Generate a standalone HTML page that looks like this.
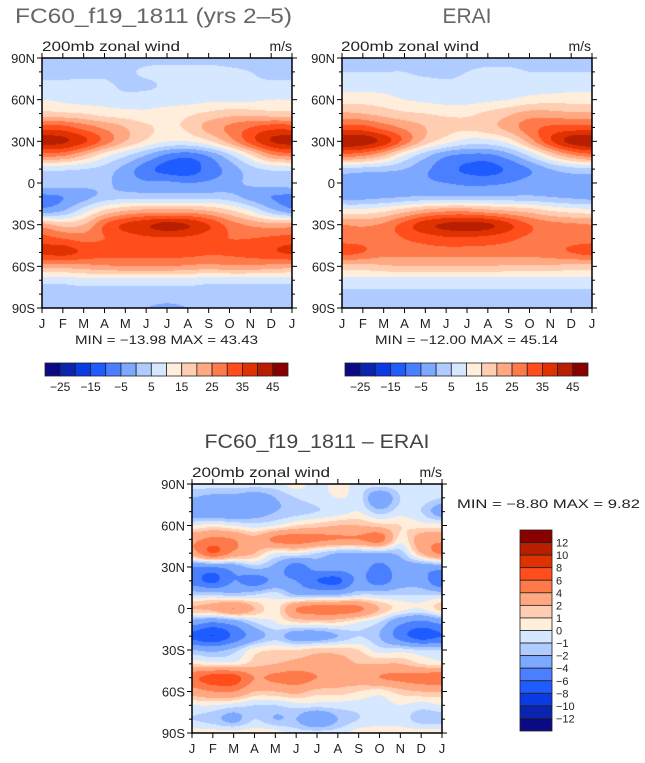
<!DOCTYPE html>
<html><head><meta charset="utf-8">
<style>
body{margin:0;background:#fff;width:645px;height:763px;overflow:hidden;position:relative;font-family:"Liberation Sans",sans-serif}
canvas{position:absolute}
svg{position:absolute;left:0;top:0}
</style></head>
<body>
<canvas id="c1" style="left:42px;top:58px" width="250" height="250"></canvas>
<canvas id="c2" style="left:342px;top:58px" width="250" height="250"></canvas>
<canvas id="c3" style="left:192px;top:484px" width="250" height="249"></canvas>
<svg id="s" width="645" height="763"></svg>
<script>
const months=["J","F","M","A","M","J","J","A","S","O","N","D","J"];
const latTicks=["90N","60N","30N","0","30S","60S","90S"];
const lats=[90,80,70,60,50,40,30,20,10,0,-10,-20,-30,-40,-50,-60,-70,-80,-90];
const levels1=[-25,-20,-15,-10,-5,0,5,10,15,20,25,30,35,40,45];
const levelLabels1=["-25","-15","-5","5","15","25","35","45"];
const levels3=[-12,-10,-8,-6,-4,-2,-1,0,1,2,4,6,8,10,12];
const levelLabels3=["-12","-10","-8","-6","-4","-2","-1","0","1","2","4","6","8","10","12"];
const colors=["#0a0a85","#0a24b0","#0b3be2","#1e5cff","#4a80ff","#7da8ff","#b0cbff","#d6e8ff","#ffeedb","#ffcdb2","#ffa882","#ff7a4a","#ff4d1c","#e03200","#b81f00","#8a0000"];
const model=[
[3,3,3,3,3,3,3,3,3,3,3,3,3],
[4,4,4,4,4,6,7,7,7,6,5,4,4],
[6,6,6,6,4,4,6,7,7,7,6,6,6],
[10,9,8,8,7,8,8,8,9,9,9,10,10],
[17,16,15,13,12,11,12,14,16,18,18,17,17],
[33,32,28,24,20,16,14,16,22,26,30,33,33],
[42,41,36,28,20,14,10,10,14,22,32,40,42],
[27,26,20,12,6,0,-6,-8,-4,4,14,24,27],
[6,6,5,3,-2,-8,-12,-13,-8,-3,3,6,6],
[3,3,2,1,-2,-4,-4,-5,-4,-2,1,2,3],
[-6,-5,-2,2,3,3,3,3,3,2,-2,-5,-6],
[-3,0,8,16,20,22,22,22,20,16,10,2,-3],
[22,18,20,30,36,39,42,40,35,28,24,22,22],
[32,30,28,30,32,34,34,34,32,30,30,31,32],
[36,37,34,32,32,32,32,32,31,31,32,34,36],
[22,22,23,24,25,25,25,24,23,24,24,23,22],
[7,7,8,8,8,8,8,8,7,7,7,7,7],
[3,3,3,3,3,3,3,3,3,3,3,3,3],
[1,1,1,1,1,0,-1,0,1,1,1,1,1]];
const erai=[
[3,3,3,3,3,3,3,3,3,3,3,3,3],
[5,5,5,5,4,4,5,6,6,5,5,5,5],
[8,8,8,7,7,6,6,6,7,7,7,8,8],
[13,13,12,10,9,8,8,9,10,12,13,13,13],
[21,20,18,16,15,14,14,16,19,22,22,21,21],
[32,32,28,24,20,17,16,18,22,28,31,32,32],
[44,43,38,28,18,12,8,8,12,22,34,42,44],
[28,26,20,10,2,-4,-6,-6,-2,6,16,24,28],
[4,3,2,0,-4,-8,-11,-12,-9,-5,0,3,4],
[-3,-4,-4,-3,-4,-5,-6,-6,-5,-3,-2,-2,-3],
[-2,-2,-1,0,1,1,1,1,1,1,0,-1,-2],
[12,12,14,18,22,24,24,22,20,18,15,13,12],
[25,24,26,32,38,41,42,41,36,30,27,26,25],
[28,28,28,30,32,34,34,33,31,29,28,28,28],
[32,30,27,27,27,27,27,27,27,27,28,30,32],
[18,18,19,20,20,20,20,20,19,19,19,18,18],
[8,8,8,8,8,8,8,8,8,8,8,8,8],
[4,4,4,4,4,4,4,4,4,4,4,4,4],
[2,2,2,2,2,2,2,2,2,2,2,2,2]];
const diff=[
[-0.5,-0.5,-0.5,-0.5,-0.5,0.5,-0.5,0.5,-0.5,-0.5,-0.5,-0.5,-0.5],
[-2,-2.5,-2.5,-3,-2,-1,-0.5,0,-0.5,-3.5,-1,-0.5,-1],
[-3,-3.5,-3.5,-3,-2,-1.5,-1,-0.5,0,-1.5,-0.5,-1,-3],
[0,0.5,0,-0.5,0,1,1.5,2,2,1.5,1,0.5,0.5],
[3.5,4.5,4,2.5,4.5,5,4.5,4,4,5,0.5,3,3.5],
[3,6,3.5,2,0,0,-1,-2,-2,-2,-1.5,2,4.5],
[-4,-4,-3,-1.5,-2.5,-5,-3,-3,-3,-4.5,-3,-3,-3],
[-5,-6.5,-4,-5,-3.5,-4,-6,-6.5,-3.5,-5,-3,-3,-6],
[-1,-1,-1.5,-1,-0.5,-2,-2,-2,-1,-1,-1,-1,-1],
[2,2.5,4,2,0.5,4,5,5,4.5,2,0.5,0,1.5],
[-3,-4,-3,-1,0,1,1,1,0,-1,-3.5,-4.5,-3.5],
[-6.5,-8,-5.5,-3,-1.5,-3,-3,-2,-1,-2,-5,-7,-6],
[-2,-2.5,-1.5,0.5,1,1,1.5,1.5,1,-0.5,-0.5,-1,-1],
[1,0.5,0.5,1.5,2,2.5,2.5,2.5,2,2,2,1,0.5],
[5.5,7,7,4,4.5,5,4,3,3,4,4.5,5,5.5],
[3,4,4,2,2,2.5,1.5,1.5,1,0.5,1.5,2,2],
[0,0,-0.5,-1,-1,-0.5,-0.5,-0.5,-0.5,-0.5,0,-0.5,0],
[-1,-1.5,-2.5,-1,-2,-2,-4,-2,-1,-0.5,-0.5,-1.5,-1.5],
[0.5,0.5,0.5,0.5,0.5,-0.5,-0.5,-0.5,0.5,0.5,0.5,0.5,0.5]];

function cr(p0,p1,p2,p3,t){return p1+0.5*t*(p2-p0+t*(2*p0-5*p1+4*p2-p3+t*(3*(p1-p2)+p3-p0)));}
function sample(g,r,c){
  const R=g.length,C=g[0].length;
  const ri=Math.floor(r),ci=Math.floor(c),tr=r-ri,tc=c-ci;
  const gv=(i,j)=>g[Math.max(0,Math.min(R-1,i))][Math.max(0,Math.min(C-1,j))];
  const rows=[];
  for(let k=-1;k<=2;k++){rows.push(cr(gv(ri+k,ci-1),gv(ri+k,ci),gv(ri+k,ci+1),gv(ri+k,ci+2),tc));}
  return cr(rows[0],rows[1],rows[2],rows[3],tr);
}
function colorFor(v,lv){let i=0;while(i<lv.length&&v>=lv[i])i++;return colors[i];}
function drawField(id,g,lv){
  const cv=document.getElementById(id),ctx=cv.getContext('2d');
  const W=cv.width,H=cv.height;
  for(let y=0;y<H;y++){for(let x=0;x<W;x++){
    const m=(x+0.5)/W*12, lat=90-(y+0.5)/H*180;
    const v=sample(g,(90-lat)/10,m);
    ctx.fillStyle=colorFor(v,lv);ctx.fillRect(x,y,1,1);
  }}
}
drawField('c1',model,levels1);
drawField('c2',erai,levels1);
drawField('c3',diff,levels3);

const S=document.getElementById('s');
const NS='http://www.w3.org/2000/svg';
function el(tag,attrs,parent){const e=document.createElementNS(NS,tag);for(const k in attrs)e.setAttribute(k,attrs[k]);(parent||S).appendChild(e);return e;}
function txt(x,y,s,size,anchor,fill,name,len){const t=el('text',{x:x,y:y,'font-size':size,'text-anchor':anchor||'start',fill:fill||'#000','font-family':'Liberation Sans, sans-serif'});t.textContent=s;
if(len){t.setAttribute('textLength',len);t.setAttribute('lengthAdjust','spacingAndGlyphs');}


return t;}

function frame(x0,y0,w,h){
  const g=el('g',{});
  
  
  el('rect',{x:x0,y:y0,width:w,height:h,fill:'none',stroke:'#000','stroke-width':1.5},g);
  for(let i=0;i<months.length;i++){
    const x=x0+i*w/12;
    el('line',{x1:x,y1:y0+h,x2:x,y2:y0+h+5,stroke:'#000'},g);
    el('line',{x1:x,y1:y0,x2:x,y2:y0-5,stroke:'#000'},g);
    txt(x,y0+h+20,months[i],13,'middle','#222','month-label');
  }
  for(let k=0;k<=18;k++){
    const y=y0+k*h/18,L=(k%3==0)?5:3;
    el('line',{x1:x0-L,y1:y,x2:x0,y2:y,stroke:'#000'},g);
    el('line',{x1:x0+w,y1:y,x2:x0+w+L,y2:y,stroke:'#000'},g);
  }
  for(let i=0;i<latTicks.length;i++){
    const y=y0+i*h/6+5;
    txt(x0-7,y,latTicks[i],13,'end','#222','latitude-label');
  }
}
frame(42,58,250,250);
frame(342,58,250,250);
frame(192,484,250,249);

txt(15,23,"FC60_f19_1811 (yrs 2–5)",21,'start','#666','model-title',277);
txt(467,23,"ERAI",21,'middle','#666','erai-title');
txt(317,448,"FC60_f19_1811 – ERAI",19,'middle','#444','difference-title',225);
txt(42,51,"200mb zonal wind",14,'start','#222','model-subtitle',138);
txt(292,51,"m/s",14,'end','#222','model-units');
txt(341,51,"200mb zonal wind",14,'start','#222','erai-subtitle',138);
txt(591,51,"m/s",14,'end','#222','erai-units');
txt(192,477,"200mb zonal wind",14,'start','#222','difference-subtitle',138);
txt(442,477,"m/s",14,'end','#222','difference-units');
txt(75,344,"MIN = −13.98 MAX =   43.43",12,'start','#222','model-min-max',183);
txt(375,344,"MIN = −12.00 MAX =   45.14",12,'start','#222','erai-min-max',183);
txt(457,508,"MIN =   −8.80 MAX =    9.82",12,'start','#222','difference-min-max',183);

function hbar(x0,y0,w,h,name){
  const g=el('g',{});
  
  
  const bw=w/colors.length;
  colors.forEach((c,i)=>el('rect',{x:x0+i*bw,y:y0,width:bw,height:h,fill:c,stroke:'#222','stroke-width':0.8},g));
  levelLabels1.forEach((s,i)=>{txt(x0+bw*(1+2*i),y0+h+15,s.replace('-','−'),12,'middle','#222','colorbar-label');});
}
hbar(45,363,243,13,'model-colorbar');
hbar(345,363,243,13,'erai-colorbar');
(function(){
  const x0=520,y0=530,w=32,h=201;
  const g=el('g',{});
  
  
  const bh=h/colors.length;
  colors.slice().reverse().forEach((c,i)=>el('rect',{x:x0,y:y0+i*bh,width:w,height:bh,fill:c,stroke:'#222','stroke-width':0.8},g));
  levelLabels3.slice().reverse().forEach((s,i)=>{txt(x0+36,y0+bh*(i+1)+4,s.replace('-','−'),11,'start','#222','colorbar-label');});
})();
</script>
</body></html>
